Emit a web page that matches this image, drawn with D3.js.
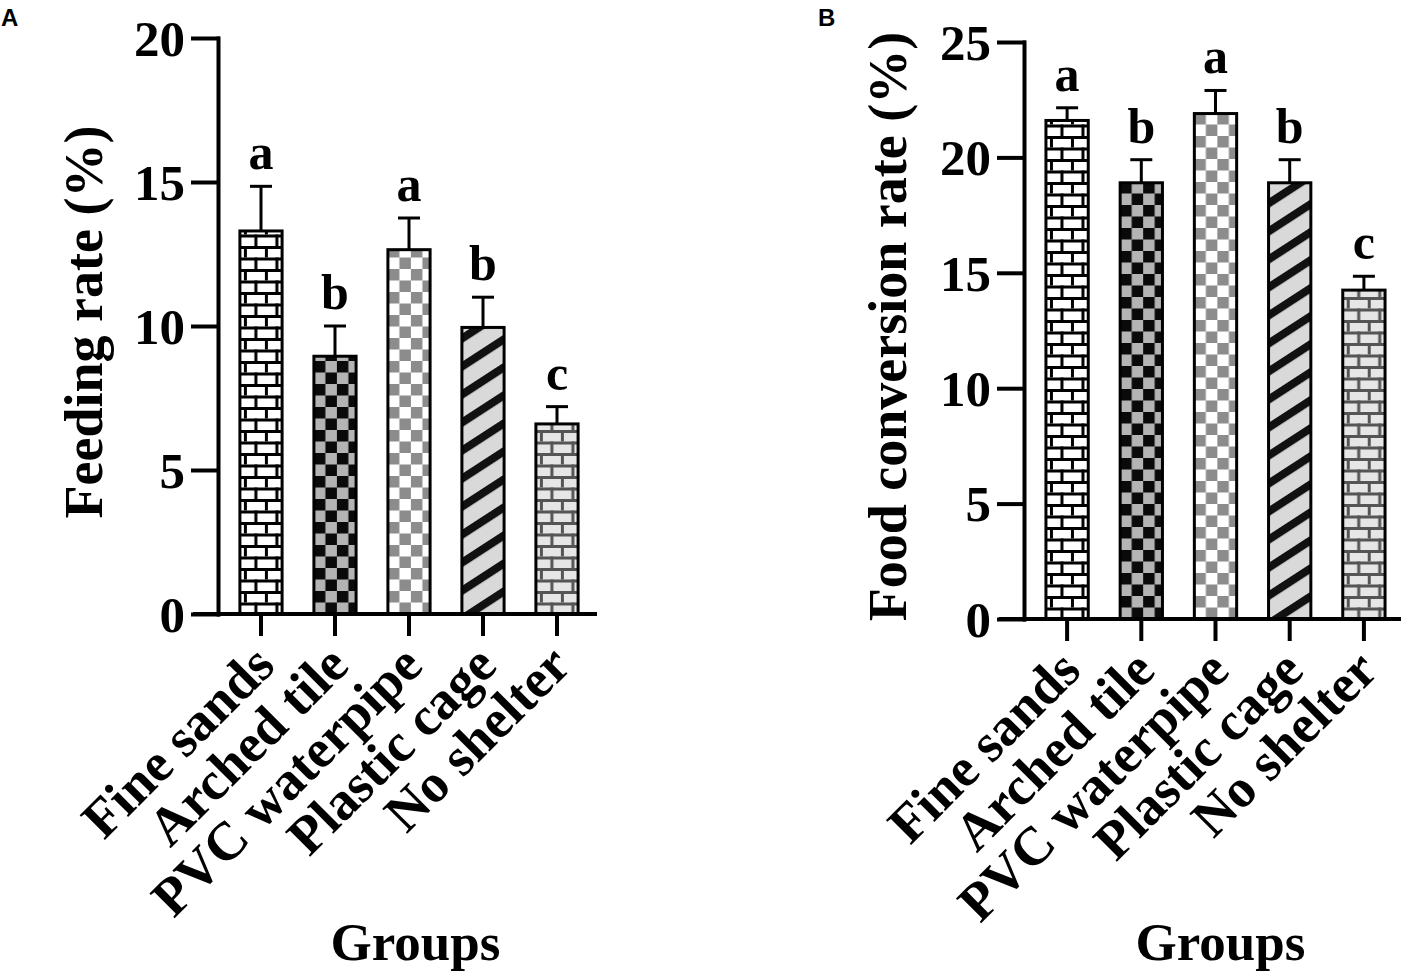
<!DOCTYPE html>
<html>
<head>
  <meta charset="utf-8">
  <script src="https://d3js.org/d3.v7.min.js"></script>
  <style>
    body { margin: 0; background: #fff; }
    svg text { font-family: "Liberation Serif", "Times New Roman", serif; font-weight: bold; fill: #000; }
    svg text.tag { font-family: "Liberation Sans", Arial, sans-serif; }
  </style>
</head>
<body>
<script>
  "use strict";

  // groups on the x axis (same in both panels)
  var groups = ["Fine sands", "Arched tile", "PVC waterpipe", "Plastic cage", "No shelter"];

  // panel A: feeding rate (%)
  var feedingMean = [13.3, 8.95, 12.65, 9.95, 6.6];
  var feedingSD = [1.55, 1.05, 1.1, 1.05, 0.6];
  var feedingLetters = ["a", "b", "a", "b", "c"];
  var feedingTicks = [0, 5, 10, 15, 20];

  // panel B: food conversion rate (%)
  var conversionMean = [21.6, 18.9, 21.9, 18.9, 14.25];
  var conversionSD = [0.55, 1.0, 1.0, 1.0, 0.6];
  var conversionLetters = ["a", "b", "a", "b", "c"];
  var conversionTicks = [0, 5, 10, 15, 20, 25];

  var width = 1410, height = 974;

  var svg = d3.select("body").append("svg")
      .attr("width", width)
      .attr("height", height);
  var defs = svg.append("defs");

  /*
    fill patterns, one per bar so they line up with the bar edges
  */
  function brickPattern(id, x0, y0, fill, line) {
    var p = defs.append("pattern")
        .attr("id", id)
        .attr("patternUnits", "userSpaceOnUse")
        .attr("x", x0).attr("y", y0)
        .attr("width", 21).attr("height", 23);
    p.append("rect").attr("width", 21).attr("height", 23).attr("fill", fill);
    p.append("rect").attr("x", 0).attr("y", 0).attr("width", 21).attr("height", 3).attr("fill", line);
    p.append("rect").attr("x", 0).attr("y", 11.5).attr("width", 21).attr("height", 3).attr("fill", line);
    p.append("rect").attr("x", 4).attr("y", 0).attr("width", 3).attr("height", 11.5).attr("fill", line);
    p.append("rect").attr("x", 14.5).attr("y", 11.5).attr("width", 3).attr("height", 11.5).attr("fill", line);
  }

  function checkerPattern(id, x0, y0, bg, sq) {
    var p = defs.append("pattern")
        .attr("id", id)
        .attr("patternUnits", "userSpaceOnUse")
        .attr("x", x0).attr("y", y0)
        .attr("width", 23).attr("height", 23);
    p.append("rect").attr("width", 23).attr("height", 23).attr("fill", bg);
    p.append("rect").attr("x", 0).attr("y", 0).attr("width", 11.5).attr("height", 11.5).attr("fill", sq);
    p.append("rect").attr("x", 11.5).attr("y", 11.5).attr("width", 11.5).attr("height", 11.5).attr("fill", sq);
  }

  function stripePattern(id, x0, y0, bg, line) {
    var p = defs.append("pattern")
        .attr("id", id)
        .attr("patternUnits", "userSpaceOnUse")
        .attr("patternTransform", "translate(" + x0 + "," + y0 + ") rotate(-33)")
        .attr("width", 24).attr("height", 23.5);
    p.append("rect").attr("width", 24).attr("height", 23.5).attr("fill", bg);
    p.append("rect").attr("x", 0).attr("y", 0).attr("width", 24).attr("height", 8).attr("fill", line);
  }

  var patternMakers = [
    function (id, x, y) { brickPattern(id, x, y, "#ffffff", "#000000"); },
    function (id, x, y) { checkerPattern(id, x, y, "#b4b4b4", "#0a0a0a"); },
    function (id, x, y) { checkerPattern(id, x, y, "#ffffff", "#8c8c8c"); },
    function (id, x, y) { stripePattern(id, x, y, "#d9d9d9", "#111111"); },
    function (id, x, y) { brickPattern(id, x, y, "#e6e6e6", "#555555"); }
  ];

  var panels = [
    { tag: "A", tagX: 1, title: "Feeding rate (%)", titleX: 102,
      means: feedingMean, sds: feedingSD, letters: feedingLetters, ticks: feedingTicks,
      axisX: 218, top: 38, bottom: 614, bandStart: 224, bandEnd: 594, lineEnd: 597 },
    { tag: "B", tagX: 818, title: "Food conversion rate (%)", titleX: 906,
      means: conversionMean, sds: conversionSD, letters: conversionLetters, ticks: conversionTicks,
      axisX: 1024, top: 42, bottom: 619, bandStart: 1030, bandEnd: 1401, lineEnd: 1401 }
  ];

  panels.forEach(function (pn) {
    var g = svg.append("g");
    var yMax = pn.ticks[pn.ticks.length - 1];

    var x = d3.scaleBand()
        .domain(groups)
        .range([pn.bandStart, pn.bandEnd])
        .paddingInner(0.43)
        .paddingOuter(0.215);
    var y = d3.scaleLinear()
        .domain([0, yMax])
        .range([pn.bottom, pn.top]);

    // patterns
    groups.forEach(function (grp, i) {
      patternMakers[i]("pat-" + pn.tag + "-" + i, x(grp), y(0));
    });

    // error bars (upper only)
    var err = g.selectAll(".err")
        .data(groups)
        .enter().append("g")
        .attr("class", "err")
        .attr("stroke", "#000")
        .attr("stroke-width", 3);
    err.append("line")
        .attr("x1", function (d) { return x(d) + x.bandwidth() / 2; })
        .attr("x2", function (d) { return x(d) + x.bandwidth() / 2; })
        .attr("y1", function (d, i) { return y(pn.means[i]); })
        .attr("y2", function (d, i) { return y(pn.means[i] + pn.sds[i]); });
    err.append("line")
        .attr("x1", function (d) { return x(d) + x.bandwidth() / 2 - 11; })
        .attr("x2", function (d) { return x(d) + x.bandwidth() / 2 + 11; })
        .attr("y1", function (d, i) { return y(pn.means[i] + pn.sds[i]); })
        .attr("y2", function (d, i) { return y(pn.means[i] + pn.sds[i]); });

    // bars
    g.selectAll(".bar")
        .data(groups)
        .enter().append("rect")
        .attr("class", "bar")
        .attr("x", function (d) { return x(d); })
        .attr("width", x.bandwidth())
        .attr("y", function (d, i) { return y(pn.means[i]); })
        .attr("height", function (d, i) { return y(0) - y(pn.means[i]); })
        .attr("fill", function (d, i) { return "url(#pat-" + pn.tag + "-" + i + ")"; })
        .attr("stroke", "#000")
        .attr("stroke-width", 3);

    // significance letters
    g.selectAll(".sig")
        .data(groups)
        .enter().append("text")
        .attr("class", "sig")
        .attr("x", function (d) { return x(d) + x.bandwidth() / 2; })
        .attr("y", function (d, i) { return y(pn.means[i] + pn.sds[i]) - 17; })
        .attr("text-anchor", "middle")
        .style("font-size", "50px")
        .text(function (d, i) { return pn.letters[i]; });

    // y axis
    var yAxis = g.append("g")
        .attr("transform", "translate(" + pn.axisX + ",0)")
        .call(d3.axisLeft(y).tickValues(pn.ticks).tickSize(25).tickSizeOuter(0).tickPadding(8));
    yAxis.selectAll("path, line")
        .attr("stroke", "#000")
        .attr("stroke-width", 4)
        .attr("stroke-linecap", "square");
    yAxis.selectAll("text")
        .style("font-size", "51px")
        .attr("dy", "0.34em");

    // x axis
    var xAxis = g.append("g")
        .attr("transform", "translate(0," + pn.bottom + ")")
        .call(d3.axisBottom(x).tickSize(22).tickSizeOuter(0));
    xAxis.select(".domain").remove();
    xAxis.append("line")
        .attr("x1", pn.axisX - 25)
        .attr("x2", pn.lineEnd)
        .attr("stroke", "#000")
        .attr("stroke-width", 4);
    xAxis.selectAll(".tick line")
        .attr("stroke", "#000")
        .attr("stroke-width", 4);
    xAxis.selectAll(".tick text")
        .attr("x", 0).attr("y", 0).attr("dy", 0)
        .attr("text-anchor", "end")
        .attr("transform", "translate(16,54) rotate(-45)")
        .style("font-size", "54px");

    // axis titles
    g.append("text")
        .attr("transform", "translate(" + pn.titleX + "," + ((pn.top + pn.bottom) / 2 - 4) + ") rotate(-90)")
        .attr("text-anchor", "middle")
        .style("font-size", "54px")
        .text(pn.title);

    g.append("text")
        .attr("x", (pn.axisX + pn.lineEnd) / 2 + 8)
        .attr("y", 960)
        .attr("text-anchor", "middle")
        .style("font-size", "53px")
        .text("Groups");

    // panel tag
    g.append("text")
        .attr("class", "tag")
        .attr("x", pn.tagX)
        .attr("y", 26)
        .style("font-size", "24px")
        .text(pn.tag);
  });
</script>
</body>
</html>
